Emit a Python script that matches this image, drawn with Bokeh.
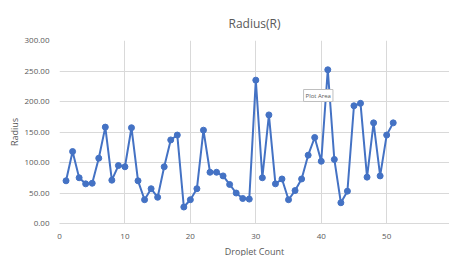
from bokeh.plotting import figure
from bokeh.embed import file_html
from bokeh.resources import INLINE
from bokeh.models import Range1d, Label, FixedTicker, NumeralTickFormatter

droplet = list(range(1, 52))
radius = [70, 118, 75, 65, 66, 107, 158, 71, 95, 93,
          157, 70, 39, 57, 43, 93, 137, 145, 27, 39,
          57, 153, 84, 84, 78, 64, 50, 41, 40, 235,
          75, 178, 65, 73, 39, 54, 73, 112, 141, 102,
          252, 105, 34, 53, 193, 197, 76, 165, 78, 145, 165]
x_ticks = [0, 10, 20, 30, 40, 50]
y_ticks = [0, 50, 100, 150, 200, 250, 300]

FONT = "Open Sans"
GRAY = "#595959"

p = figure(frame_width=390, frame_height=183, output_backend="svg", toolbar_location=None,
           x_range=Range1d(0, 59.6), y_range=Range1d(0, 300),
           min_border_left=59, min_border_right=0, min_border_top=40, min_border_bottom=25)
p.title.text = "Radius(R)"
p.title.align = "center"
p.title.text_font = FONT
p.title.text_font_size = "12px"
p.title.text_font_style = "normal"
p.title.text_color = GRAY
p.title.standoff = 17
p.outline_line_color = None

p.line(droplet, radius, line_color="#4472C4", line_width=2)
p.scatter(droplet, radius, size=6, fill_color="#4472C4", line_color="#4472C4")

p.xaxis.ticker = FixedTicker(ticks=x_ticks)
p.yaxis.ticker = FixedTicker(ticks=y_ticks)
p.yaxis.formatter = NumeralTickFormatter(format="0.00")
p.xaxis.axis_label = "Droplet Count"
p.yaxis.axis_label = "Radius"
for ax in (p.xaxis, p.yaxis):
    ax.major_tick_line_color = None
    ax.minor_tick_line_color = None
    ax.major_label_text_font = FONT
    ax.major_label_text_font_size = "8px"
    ax.major_label_text_color = GRAY
    ax.axis_label_text_font = FONT
    ax.axis_label_text_font_size = "9px"
    ax.axis_label_text_font_style = "normal"
    ax.axis_label_text_color = GRAY
    ax.axis_label_standoff = 3
    ax.major_label_standoff = 4
p.yaxis.axis_label_standoff = 1
p.yaxis.axis_line_color = None
p.xaxis.axis_line_color = "#d9d9d9"
p.xgrid.grid_line_color = "#d9d9d9"
p.ygrid.grid_line_color = "#d9d9d9"

p.add_layout(Label(x=37.3, y=200, text="Plot Area", text_font=FONT, text_font_size="6px",
                   text_color=GRAY, background_fill_color="white",
                   border_line_color="#bfbfbf", padding=2))

open("out.html", "w").write(file_html(p, INLINE))
